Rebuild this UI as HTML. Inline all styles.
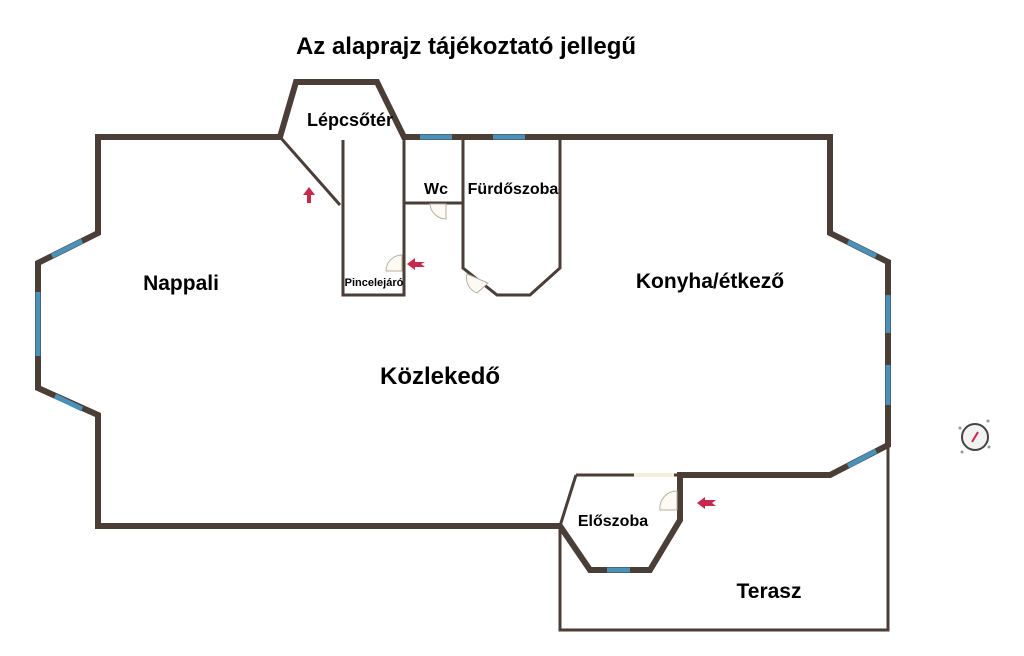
<!DOCTYPE html>
<html><head><meta charset="utf-8"><style>
html,body{margin:0;padding:0;background:#fff;}
svg{display:block;}
text{font-family:"Liberation Sans",sans-serif;font-weight:bold;fill:#000;}
</style></head><body>
<svg width="1024" height="656" viewBox="0 0 1024 656" xmlns="http://www.w3.org/2000/svg">
<text x="466" y="54" font-size="24" text-anchor="middle">Az alaprajz tájékoztató jellegű</text>
<g fill="none" stroke="#4a3e37" stroke-linejoin="miter">
<g stroke-width="3">
<path d="M280,137 L340,205"/>
<path d="M343,140 L343,295 L404,295 L404,137"/>
<path d="M404,203 L463,203"/>
<path d="M463,137 L463,268 L497,295 L530,295 L560,268 L560,137"/>
<path d="M576,475 L560,526 L560,630 L888,630 L888,445"/>
<path d="M576,475 L634,475 M674,475 L680,475"/>
</g>
<path stroke-width="6" d="M98,137 L280,137 L296,82 L377,82 L404,137 L830,137 L830,233 L888,262 L888,445 L830,475 L680,475 L680,520 L650,570 L590,570 L560,526 L98,526 L98,415 L38,388 L38,263 L98,233 Z"/>
</g>
<g stroke="#4a90b8" stroke-width="5">
<path d="M420,137 L452,137 M493,137 L525,137"/>
<path d="M52,256 L82,241"/>
<path d="M38,292 L38,356"/>
<path d="M55,396 L82,409"/>
<path d="M848,242 L876,256"/>
<path d="M888,295 L888,333 M888,365 L888,405"/>
<path d="M848,466 L876,451"/>
<path d="M607,570 L630,570"/>
</g>
<path d="M634,475 L674,475" stroke="#f3eee0" stroke-width="4"/>
<g fill="#fdfaf4" stroke="#b8aea2" stroke-width="1">
<path d="M446,204 L446,219 A16,16 0 0 1 430,204 Z"/>
<path d="M402,271 L386,271 A16,16 0 0 1 402,255 Z"/>
<path d="M467,274 A16,16 0 0 0 477,293 L488,283 Z"/>
<path d="M677,510 L660,510 A17,17 0 0 1 677,491 Z"/>
</g>
<g fill="#c8284a">
<path d="M309,187 L315,195 L311,195 L311,203 L307,203 L307,195 L303,195 Z"/>
<path d="M407,264 L415,258 L415,262 L425,262 L421,264 L425,267 L415,267 L415,270 Z"/>
<path d="M697,503 L705,497 L705,500 L716,500 L712,503 L716,506 L705,506 L705,509 Z"/>
</g>
<g>
<circle cx="975" cy="437" r="13" fill="#f2f2f2" stroke="#444" stroke-width="2"/>
<path d="M972,442 L978,432" stroke="#c8284a" stroke-width="2"/>
<circle cx="960" cy="428" r="1.5" fill="#999"/><circle cx="988" cy="421" r="1.5" fill="#999"/>
<circle cx="962" cy="452" r="1.5" fill="#999"/><circle cx="989" cy="447" r="1.5" fill="#999"/>
</g>
<text x="350" y="126" font-size="18" text-anchor="middle">Lépcsőtér</text>
<text x="436" y="194" font-size="16" text-anchor="middle">Wc</text>
<text x="513" y="194" font-size="16" text-anchor="middle">Fürdőszoba</text>
<text x="374" y="286" font-size="11" text-anchor="middle">Pincelejáró</text>
<text x="181" y="290" font-size="21" text-anchor="middle">Nappali</text>
<text x="710" y="288" font-size="21" text-anchor="middle">Konyha/étkező</text>
<text x="440" y="384" font-size="24" text-anchor="middle">Közlekedő</text>
<text x="613" y="526" font-size="16" text-anchor="middle">Előszoba</text>
<text x="769" y="598" font-size="21" text-anchor="middle">Terasz</text>
</svg>
</body></html>
